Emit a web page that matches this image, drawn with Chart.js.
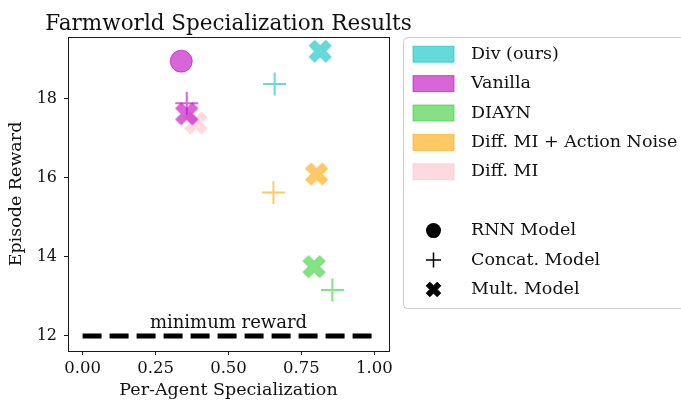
<!DOCTYPE html>
<html>
<head>
<meta charset="utf-8">
<script src="https://cdn.jsdelivr.net/npm/chart.js@4.4.1/dist/chart.umd.min.js"></script>
<style>
  html, body { margin: 0; padding: 0; background: #ffffff; }
  canvas { display: block; }
</style>
</head>
<body>
<canvas id="chart" width="681" height="402"></canvas>
<script>
// Methods compared, in legend order
const methods = ['Div (ours)', 'Vanilla', 'DIAYN', 'Diff. MI + Action Noise', 'Diff. MI'];
const modelNames = ['RNN Model', 'Concat. Model', 'Mult. Model'];
const chartTitle = 'Farmworld Specialization Results';

// Per-method results for each model type (null = no run for that combination)
const rnnSpecialization    = [null, 0.338, null, null, null];
const rnnReward            = [null, 18.94, null, null, null];
const concatSpecialization = [0.658, 0.357, 0.856, 0.654, null];
const concatReward         = [18.36, 17.88, 13.16, 15.62, null];
const multSpecialization   = [0.814, 0.357, 0.793, 0.802, 0.388];
const multReward           = [19.19, 17.61, 13.75, 16.09, 17.38];

// Baseline reward line
const minimumReward = 12;
const minimumRewardSpan = [0, 1];
const minimumRewardLabel = 'minimum reward';

// Axis ticks
const xTickValues = [0, 0.25, 0.5, 0.75, 1];
const xTickLabels = ['0.00', '0.25', '0.50', '0.75', '1.00'];
const yTickValues = [12, 14, 16, 18];
const yTickLabels = ['12', '14', '16', '18'];

// ---- styling ----
const FONT = "'DejaVu Serif', 'Liberation Serif', serif";
const methodRGB = ['0,191,191', '191,0,191', '50,205,50', '255,165,0', '255,192,203'];
const ALPHA = 0.6;
const rgba = (rgb, a) => `rgba(${rgb},${a})`;

// Filled "X" marker drawn into a small canvas so it can be used as a pointStyle
function makeXMarker(fill, size) {
  const s = size;              // nominal marker size in px
  const pad = 2;
  const dim = Math.ceil(s * 0.95) + pad * 2;
  const cv = document.createElement('canvas');
  cv.width = dim; cv.height = dim;
  const ctx = cv.getContext('2d');
  const base = [[-1,-3],[1,-3],[1,-1],[3,-1],[3,1],[1,1],[1,3],[-1,3],[-1,1],[-3,1],[-3,-1],[-1,-1]];
  const c = Math.cos(Math.PI / 4), sn = Math.sin(Math.PI / 4);
  ctx.beginPath();
  base.forEach(([px, py], i) => {
    const x = (px * c - py * sn) * s / 6 + dim / 2;
    const y = (px * sn + py * c) * s / 6 + dim / 2;
    if (i === 0) ctx.moveTo(x, y); else ctx.lineTo(x, y);
  });
  ctx.closePath();
  ctx.fillStyle = fill;
  ctx.fill();
  ctx.strokeStyle = fill;
  ctx.lineWidth = 1;
  ctx.stroke();
  return cv;
}

function point(x, y) { return (x === null || y === null) ? null : { x, y }; }

const datasets = [];
methods.forEach((name, i) => {
  const rgb = methodRGB[i];
  const layer = name === 'Diff. MI' ? 1 : 0;
  const rnn = point(rnnSpecialization[i], rnnReward[i]);
  const concat = point(concatSpecialization[i], concatReward[i]);
  const mult = point(multSpecialization[i], multReward[i]);
  if (concat) datasets.push({
    label: name + ' / ' + modelNames[1],
    data: [concat],
    pointStyle: 'cross',
    pointRadius: 11.5,
    pointBorderWidth: 2,
    borderColor: rgba(rgb, ALPHA),
    backgroundColor: rgba(rgb, ALPHA),
    order: layer
  });
  if (mult) datasets.push({
    label: name + ' / ' + modelNames[2],
    data: [mult],
    pointStyle: makeXMarker(rgba(rgb, ALPHA), 23.5),
    pointRadius: 12,
    order: layer
  });
  if (rnn) datasets.push({
    label: name + ' / ' + modelNames[0],
    data: [rnn],
    pointStyle: 'circle',
    pointRadius: 11,
    pointBorderWidth: 1,
    borderColor: rgba(rgb, ALPHA),
    backgroundColor: rgba(rgb, ALPHA),
    order: layer
  });
});

datasets.push({
  label: minimumRewardLabel,
  type: 'line',
  data: minimumRewardSpan.map(x => ({ x, y: minimumReward })),
  borderColor: '#000000',
  borderWidth: 5,
  borderDash: [19, 8],
  borderCapStyle: 'butt',
  pointRadius: 0,
  fill: false,
  order: 2
});

// Title, frame around the plot, baseline label and the two-part legend
const decorations = {
  id: 'decorations',
  afterDatasetsDraw(chart) {
    const { ctx, chartArea: a, scales } = chart;
    ctx.save();
    ctx.strokeStyle = '#1a1a1a';
    ctx.lineWidth = 1;
    ctx.strokeRect(Math.round(a.left) + 0.5, Math.round(a.top) + 0.5,
                   Math.round(a.right - a.left), Math.round(a.bottom - a.top));

    // title, centred over the plot area
    ctx.fillStyle = '#111111';
    ctx.font = `21.5px ${FONT}`;
    ctx.textAlign = 'center';
    ctx.textBaseline = 'alphabetic';
    ctx.fillText(chartTitle, (a.left + a.right) / 2, a.top - 7.5);

    // baseline label
    const mx = scales.x.getPixelForValue((minimumRewardSpan[0] + minimumRewardSpan[1]) / 2);
    const my = scales.y.getPixelForValue(minimumReward);
    ctx.font = `18px ${FONT}`;
    ctx.fillText(minimumRewardLabel, mx, my - 7.5);

    // legend box
    const bx = 403.5, by = 37.5, bw = 300, bh = 271, r = 4;
    ctx.beginPath();
    ctx.moveTo(bx + r, by);
    ctx.lineTo(bx + bw, by);
    ctx.lineTo(bx + bw, by + bh);
    ctx.lineTo(bx + r, by + bh);
    ctx.arcTo(bx, by + bh, bx, by + bh - r, r);
    ctx.lineTo(bx, by + r);
    ctx.arcTo(bx, by, bx + r, by, r);
    ctx.closePath();
    ctx.fillStyle = 'rgba(255,255,255,0.8)';
    ctx.fill();
    ctx.strokeStyle = '#cccccc';
    ctx.lineWidth = 1;
    ctx.stroke();

    const rowY = i => 54.2 + i * 29.4;
    const textX = 471;
    ctx.font = `17.5px ${FONT}`;
    ctx.textAlign = 'left';
    ctx.textBaseline = 'middle';
    methods.forEach((name, i) => {
      const y = rowY(i);
      ctx.fillStyle = rgba(methodRGB[i], ALPHA);
      ctx.fillRect(413, y - 8, 41, 16);
      ctx.strokeStyle = rgba(methodRGB[i], ALPHA);
      ctx.lineWidth = 1;
      ctx.strokeRect(413, y - 8, 41, 16);
      ctx.fillStyle = '#111111';
      ctx.fillText(name, textX, y);
    });

    const mxc = 433.5;
    // RNN: filled circle
    let y = rowY(6);
    ctx.fillStyle = '#000000';
    ctx.beginPath();
    ctx.arc(mxc, y, 7.5, 0, Math.PI * 2);
    ctx.fill();
    ctx.fillStyle = '#111111';
    ctx.fillText(modelNames[0], textX, y);
    // Concat: plus
    y = rowY(7);
    ctx.strokeStyle = '#000000';
    ctx.lineWidth = 1.5;
    ctx.beginPath();
    ctx.moveTo(mxc - 7.5, y); ctx.lineTo(mxc + 7.5, y);
    ctx.moveTo(mxc, y - 7.5); ctx.lineTo(mxc, y + 7.5);
    ctx.stroke();
    ctx.fillText(modelNames[1], textX, y);
    // Mult: filled X
    y = rowY(8);
    const xm = makeXMarker('#000000', 15.5);
    ctx.drawImage(xm, mxc - xm.width / 2, y - xm.height / 2);
    ctx.fillStyle = '#111111';
    ctx.fillText(modelNames[2], textX, y);
    ctx.restore();
  }
};

new Chart(document.getElementById('chart'), {
  type: 'scatter',
  data: { datasets },
  options: {
    responsive: false,
    animation: false,
    devicePixelRatio: 1,
    layout: { padding: { left: 0, right: 292, top: 37, bottom: 0 } },
    plugins: {
      legend: { display: false },
      tooltip: { enabled: false },
      title: { display: false }
    },
    scales: {
      x: {
        type: 'linear',
        min: -0.05,
        max: 1.05,
        afterBuildTicks: s => { s.ticks = xTickValues.map(v => ({ value: v })); },
        afterFit: s => { s.height = 51; },
        ticks: {
          callback: (v, i) => xTickLabels[i],
          color: '#111111',
          font: { family: FONT, size: 16.5 },
          padding: 4,
          maxRotation: 0
        },
        grid: { display: true, drawOnChartArea: false, drawTicks: true, tickLength: 4, tickColor: '#1a1a1a' },
        border: { display: false },
        title: {
          display: true,
          text: 'Per-Agent Specialization',
          color: '#111111',
          font: { family: FONT, size: 17.5 },
          padding: { top: 0, bottom: 1 }
        }
      },
      y: {
        type: 'linear',
        min: 11.62,
        max: 19.55,
        afterBuildTicks: s => { s.ticks = yTickValues.map(v => ({ value: v })); },
        afterFit: s => { s.width = 68; },
        ticks: {
          callback: (v, i) => yTickLabels[i],
          color: '#111111',
          font: { family: FONT, size: 16 },
          padding: 7
        },
        grid: { display: true, drawOnChartArea: false, drawTicks: true, tickLength: 4, tickColor: '#1a1a1a' },
        border: { display: false },
        title: {
          display: true,
          text: 'Episode Reward',
          color: '#111111',
          font: { family: FONT, size: 17.5 },
          padding: { top: 6, bottom: 0 }
        }
      }
    }
  },
  plugins: [decorations]
});
</script>
</body>
</html>
